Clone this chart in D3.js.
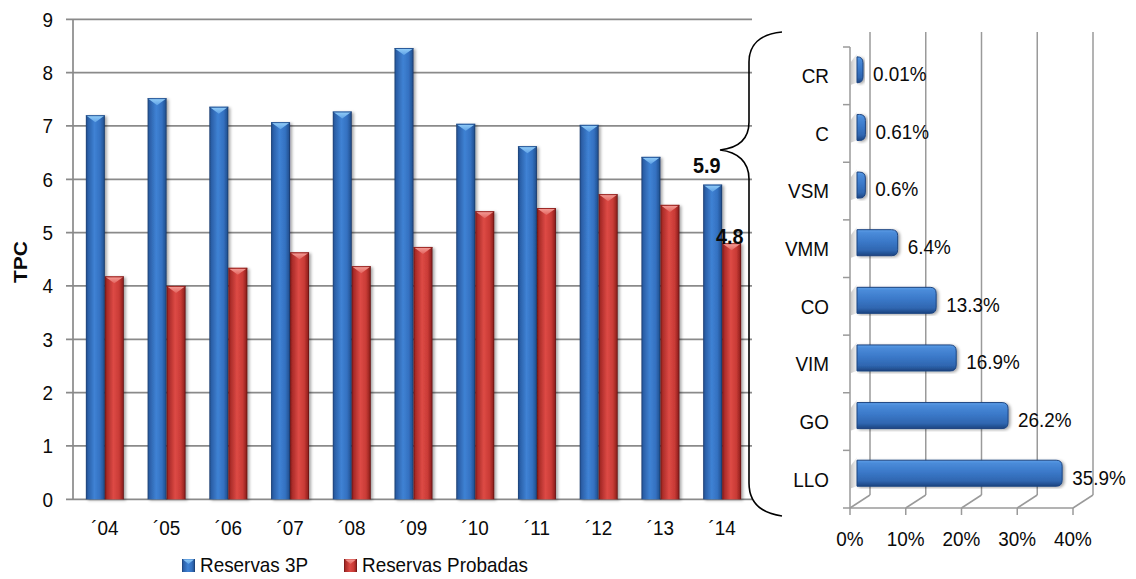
<!DOCTYPE html>
<html>
<head>
<meta charset="utf-8">
<script src="https://cdn.jsdelivr.net/npm/d3@7"></script>
<style>
  body { margin: 0; background: #fff; }
  svg { display: block; }
  text { font-family: "Liberation Sans", Arial, sans-serif; fill: #0a0a0a; }
</style>
</head>
<body>
<svg id="chart" width="1136" height="579"></svg>
<script>
// Gas reserves by year (TPC) and share of reserves by basin
const years = ["´04", "´05", "´06", "´07", "´08", "´09", "´10", "´11", "´12", "´13", "´14"];
const reservas3P = [7.2, 7.52, 7.36, 7.07, 7.27, 8.46, 7.04, 6.62, 7.02, 6.42, 5.9];
const reservasProbadas = [4.18, 4.0, 4.34, 4.63, 4.37, 4.73, 5.4, 5.46, 5.72, 5.52, 4.8];
const yTicks = [0, 1, 2, 3, 4, 5, 6, 7, 8, 9];
const seriesNames = ["Reservas 3P", "Reservas Probadas"];
const yTitle = "TPC";

const basins = ["CR", "C", "VSM", "VMM", "CO", "VIM", "GO", "LLO"];
const basinShare = [0.01, 0.61, 0.6, 6.4, 13.3, 16.9, 26.2, 35.9];
const shareTicks = [0, 10, 20, 30, 40];

const svg = d3.select("#chart");
const defs = svg.append("defs");
const SX = 0.9;   // horizontal text compression
const FS = 21;    // base font size

function label(g, x, y, s, anchor, opts = {}) {
  const t = g.append("text")
    .attr("transform", `translate(${x},${y}) scale(${SX},1)`)
    .attr("text-anchor", anchor || "start")
    .attr("font-size", opts.size || FS)
    .text(s);
  if (opts.bold) t.attr("font-weight", "bold");
  if (opts.dy) t.attr("dy", opts.dy);
  return t;
}

function grad(id, stops, vertical) {
  const g = defs.append("linearGradient").attr("id", id)
    .attr("x1", 0).attr("y1", 0)
    .attr("x2", vertical ? 0 : 1).attr("y2", vertical ? 1 : 0);
  stops.forEach(([o, c]) => g.append("stop").attr("offset", o).attr("stop-color", c));
}

grad("colBlue", [[0, "#1b3d70"], [0.1, "#2a5ea6"], [0.45, "#3f82d4"], [0.75, "#3471c1"], [0.92, "#25579a"], [1, "#163360"]]);
grad("colRed", [[0, "#6a1313"], [0.1, "#a72a27"], [0.45, "#dd4a45"], [0.75, "#c93b36"], [0.92, "#9b2522"], [1, "#5b0f0f"]]);
grad("capBlue", [[0, "#8fcaf7"], [1, "#5fa2e6"]], true);
grad("capRed", [[0, "#f39a94"], [1, "#e2635d"]], true);
grad("barBlue", [[0, "#5d9ee8"], [0.12, "#4a8bd9"], [0.45, "#3b79c9"], [0.8, "#2f66b0"], [1, "#1c4480"]], true);
grad("wedge", [[0, "#bdbdbd"], [1, "#f2f2f2"]]);

const shadow = defs.append("filter").attr("id", "shadow")
  .attr("x", "-30%").attr("y", "-10%").attr("width", "160%").attr("height", "120%");
shadow.append("feDropShadow").attr("dx", 2).attr("dy", 1)
  .attr("stdDeviation", 1.4).attr("flood-color", "#000").attr("flood-opacity", 0.35);

// ---------- Left: column chart ----------
const x = d3.scaleBand().domain(years).range([73, 752]);
const y = d3.scaleLinear().domain([0, 9]).range([499.3, 19.3]);
const gridColor = "#8a8a8a";
const left = svg.append("g");

left.selectAll("line.grid").data(yTicks).join("line")
  .attr("x1", 66).attr("x2", 752)
  .attr("y1", d => y(d)).attr("y2", d => y(d))
  .attr("stroke", gridColor).attr("stroke-width", 1.7);
left.append("line")
  .attr("x1", 73).attr("x2", 73).attr("y1", y(9)).attr("y2", y(0))
  .attr("stroke", gridColor).attr("stroke-width", 1.7);

yTicks.forEach(t => label(left, 53, y(t) + 7.5, String(t), "end"));
label(left, 0, 0, yTitle, "middle", { bold: true })
  .attr("transform", `translate(27,${262}) rotate(-90) scale(1,${SX})`);

const bw = 19;
const pairCenter = i => x(years[i]) + x.bandwidth() / 2 + 1;

function column(g, x0, v, bodyFill, capFill) {
  const top = y(v), bot = y(0);
  const grp = g.append("g");
  grp.append("rect").attr("x", x0).attr("y", top).attr("width", bw).attr("height", bot - top)
    .attr("fill", `url(#${bodyFill})`).attr("filter", "url(#shadow)");
  grp.append("path")
    .attr("d", `M${x0 + 1},${top + 0.8} L${x0 + bw - 1},${top + 0.8} L${x0 + bw / 2},${top + 7} Z`)
    .attr("fill", `url(#${capFill})`);
  grp.append("line").attr("x1", x0).attr("x2", x0 + bw).attr("y1", top + 0.4).attr("y2", top + 0.4)
    .attr("stroke", bodyFill === "colBlue" ? "#22508f" : "#8f1f1d").attr("stroke-width", 0.8);
}

years.forEach((yr, i) => {
  const c = pairCenter(i);
  column(left, c - bw, reservas3P[i], "colBlue", "capBlue");
  column(left, c, reservasProbadas[i], "colRed", "capRed");
  label(left, c, 535, yr, "middle");
});

// value labels on the last year
const last = years.length - 1;
label(left, pairCenter(last) - bw / 2 - 6, y(reservas3P[last]) - 12, String(reservas3P[last]), "middle", { bold: true, size: 22 });
label(left, pairCenter(last) + bw / 2 - 2, y(reservasProbadas[last]) + 1, String(reservasProbadas[last]), "middle", { bold: true, size: 22 });

// legend
const legend = svg.append("g");
[["colBlue", "capBlue", 182, 200], ["colRed", "capRed", 344, 362]].forEach(([f, cf, lx, tx], k) => {
  legend.append("rect").attr("x", lx).attr("y", 559).attr("width", 13).attr("height", 13).attr("fill", `url(#${f})`);
  legend.append("path").attr("d", `M${lx + 1},${559.5} L${lx + 12},${559.5} L${lx + 6.5},${564} Z`).attr("fill", `url(#${cf})`);
  label(legend, tx, 572, seriesNames[k], "start");
});

// brace linking the last year to the basin breakdown
svg.append("path")
  .attr("d", "M782,32 C760,34 749,45 749,62 L749,122 C749,139 738,148 720,150 C738,152 749,162 749,179 L749,483 C749,502 760,513 782,516")
  .attr("fill", "none").attr("stroke", "#000").attr("stroke-width", 1.6);

// ---------- Right: 3D horizontal bars ----------
const xs = d3.scaleLinear().domain([0, 40]).range([850, 1073]);
const ys = d3.scaleBand().domain(basins).range([47, 508]);
const dX = 20, dY = -13;
const right = svg.append("g");
const axisColor = "#9a9a9a";

shareTicks.forEach(t => {
  right.append("line").attr("x1", xs(t) + dX).attr("x2", xs(t) + dX).attr("y1", 32).attr("y2", 508 + dY)
    .attr("stroke", axisColor).attr("stroke-width", 1.5);
  right.append("line").attr("x1", xs(t)).attr("x2", xs(t) + dX).attr("y1", 508).attr("y2", 508 + dY)
    .attr("stroke", axisColor).attr("stroke-width", 1.5);
  right.append("line").attr("x1", xs(t)).attr("x2", xs(t)).attr("y1", 508).attr("y2", 515)
    .attr("stroke", axisColor).attr("stroke-width", 1.5);
  label(right, xs(t), 546, t + "%", "middle");
});
right.append("line").attr("x1", xs(0)).attr("x2", xs(40)).attr("y1", 508).attr("y2", 508)
  .attr("stroke", axisColor).attr("stroke-width", 1.5);
right.append("line").attr("x1", xs(0)).attr("x2", xs(0)).attr("y1", 47).attr("y2", 508)
  .attr("stroke", axisColor).attr("stroke-width", 1.5);
d3.range(basins.length + 1).forEach(k => {
  const yy = 47 + k * ys.step();
  right.append("line").attr("x1", 843).attr("x2", 850).attr("y1", yy).attr("y2", yy)
    .attr("stroke", axisColor).attr("stroke-width", 1.5);
});

basins.forEach((b, i) => {
  const c = ys(b) + ys.bandwidth() / 2;
  const yt = c - 19, yb = yt + 26;
  const x0 = xs(0) + 7;
  const x1 = Math.max(x0, xs(basinShare[i]) + 6);
  const r = 6;
  right.append("path")
    .attr("d", `M${xs(0) + 1},${yt + 5} L${x0},${yt - 3} L${x0},${yb} L${xs(0) + 1},${yb + 2} Z`)
    .attr("fill", "url(#wedge)").attr("opacity", 0.8);
  right.append("path")
    .attr("d", `M${x0},${yt} L${x1},${yt} Q${x1 + r},${yt} ${x1 + r},${yt + r} L${x1 + r},${yb - r} Q${x1 + r},${yb} ${x1},${yb} L${x0},${yb} Z`)
    .attr("fill", "url(#barBlue)").attr("stroke", "#1c4480").attr("stroke-width", 1)
    .attr("filter", "url(#shadow)");
  label(right, 829, c, b, "end", { dy: "0.35em" });
  label(right, x1 + r + 10, c - 2, basinShare[i] + "%", "start", { dy: "0.35em" });
});
</script>
</body>
</html>
